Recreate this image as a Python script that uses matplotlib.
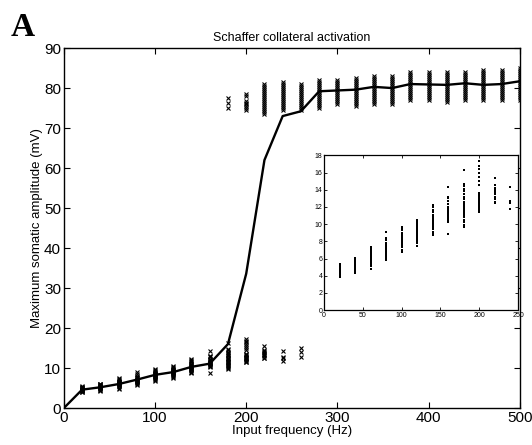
import matplotlib
matplotlib.use('Agg')
import matplotlib.pyplot as plt

plt.rcParams['font.family'] = ['Liberation Sans', 'DejaVu Sans']

# mean response line
freq = [0, 20, 40, 60, 80, 100, 120, 140, 160, 180, 200, 220, 240, 260, 280,
        300, 320, 340, 360, 380, 400, 420, 440, 460, 480, 500]
mean_amp = [0, 4.6, 5.2, 6.0, 7.1, 8.3, 9.0, 10.3, 11.1, 16.0, 33.6, 62.0, 73.0,
            74.2, 79.2, 79.4, 79.6, 80.3, 80.0, 81.0, 80.9, 80.8, 81.2, 80.8,
            81.0, 81.7]

# subthreshold trials (also shown in the inset)
low_freq = [20, 40, 60, 80, 100, 120, 140, 160, 180, 200, 220, 240, 260]
low_vals = [
    [3.9, 4.1, 4.2, 4.3, 4.4, 4.5, 4.5, 4.6, 4.7, 4.8, 4.9, 5.0, 5.1, 5.2, 5.3, 5.4],
    [4.3, 4.5, 4.6, 4.8, 4.9, 5.0, 5.1, 5.2, 5.3, 5.4, 5.5, 5.6, 5.7, 5.8, 5.9, 6.0, 6.1],
    [4.8, 5.1, 5.4, 5.6, 5.8, 5.9, 6.0, 6.1, 6.2, 6.3, 6.4, 6.5, 6.6, 6.8, 7.0, 7.2, 7.4],
    [5.8, 6.0, 6.2, 6.4, 6.6, 6.7, 6.8, 6.9, 7.0, 7.1, 7.2, 7.4, 7.6, 7.8, 8.1, 8.4, 9.1],
    [6.8, 7.0, 7.3, 7.5, 7.7, 7.9, 8.0, 8.1, 8.2, 8.3, 8.4, 8.5, 8.6, 8.8, 9.0, 9.3, 9.5, 9.7],
    [7.5, 7.8, 8.0, 8.3, 8.5, 8.7, 8.8, 8.9, 9.0, 9.1, 9.2, 9.3, 9.4, 9.6, 9.8, 10.0, 10.3, 10.5],
    [8.7, 8.9, 9.1, 9.4, 9.6, 9.8, 10.0, 10.1, 10.2, 10.3, 10.4, 10.5, 10.7, 10.9, 11.1, 11.4, 11.7, 12.0, 12.2],
    [8.8, 10.2, 10.4, 10.6, 10.8, 11.0, 11.1, 11.2, 11.3, 11.4, 11.6, 11.8, 12.0, 12.3, 12.7, 13.0, 13.1, 14.3],
    [9.7, 9.9, 10.2, 10.5, 10.8, 11.0, 11.2, 11.4, 11.6, 11.8, 12.0, 12.2, 12.4, 12.6, 12.9, 13.2, 13.5, 13.8, 14.1, 14.4, 14.7, 16.3],
    [11.4, 11.6, 11.8, 12.0, 12.2, 12.4, 12.6, 12.8, 13.0, 13.2, 13.4, 13.6, 14.6, 15.0, 15.5, 16.0, 16.4, 16.7, 17.3],
    [12.4, 12.6, 12.9, 13.2, 13.5, 13.7, 14.0, 14.2, 14.6, 15.4],
    [11.8, 12.4, 12.7, 14.3],
    [12.8, 13.9, 15.0],
]

# spiking trials
high_freq = [180, 200, 220, 240, 260, 280, 300, 320, 340, 360, 380, 400, 420,
             440, 460, 480, 500]
high_vals = [
    [75.0, 76.2, 77.4],
    [74.6, 75.1, 75.5, 75.9, 76.3, 76.8, 77.9, 78.4],
    [73.5, 74.0, 74.5, 75.0, 75.5, 76.0, 76.5, 77.0, 77.5, 78.0, 78.5, 79.0, 79.5, 80.0, 80.5, 81.0],
    [74.5, 75.0, 75.5, 76.0, 76.5, 77.0, 77.5, 78.0, 78.5, 79.0, 79.5, 80.0, 80.5, 81.0, 81.5],
    [74.5, 75.0, 75.5, 76.0, 76.5, 77.0, 77.5, 78.0, 78.5, 79.0, 79.5, 80.0, 80.5, 81.0],
    [75.0, 75.5, 76.0, 76.5, 77.0, 77.5, 78.0, 78.5, 79.0, 79.5, 80.0, 80.5, 81.0, 81.5, 82.0],
    [76.0, 76.5, 77.0, 77.5, 78.0, 78.5, 79.0, 79.5, 80.0, 80.5, 81.0, 81.5, 82.0],
    [75.5, 76.0, 76.5, 77.0, 77.5, 78.0, 78.5, 79.0, 79.5, 80.0, 80.5, 81.0, 81.5, 82.0, 82.5],
    [76.0, 76.5, 77.0, 77.5, 78.0, 78.5, 79.0, 79.5, 80.0, 80.5, 81.0, 81.5, 82.0, 82.5, 83.0],
    [76.0, 76.5, 77.0, 77.5, 78.0, 78.5, 79.0, 79.5, 80.0, 80.5, 81.0, 81.5, 82.0, 82.5, 83.0],
    [77.0, 77.5, 78.0, 78.5, 79.0, 79.5, 80.0, 80.5, 81.0, 81.5, 82.0, 82.5, 83.0, 83.5, 84.0],
    [77.0, 77.5, 78.0, 78.5, 79.0, 79.5, 80.0, 80.5, 81.0, 81.5, 82.0, 82.5, 83.0, 83.5, 84.0],
    [76.5, 77.0, 77.5, 78.0, 78.5, 79.0, 79.5, 80.0, 80.5, 81.0, 81.5, 82.0, 82.5, 83.0, 83.5, 84.0],
    [77.0, 77.5, 78.0, 78.5, 79.0, 79.5, 80.0, 80.5, 81.0, 81.5, 82.0, 82.5, 83.0, 83.5, 84.0],
    [77.0, 77.5, 78.0, 78.5, 79.0, 79.5, 80.0, 80.5, 81.0, 81.5, 82.0, 82.5, 83.0, 83.5, 84.0, 84.5],
    [77.0, 77.5, 78.0, 78.5, 79.0, 79.5, 80.0, 80.5, 81.0, 81.5, 82.0, 82.5, 83.0, 83.5, 84.0, 84.5],
    [77.0, 77.5, 78.0, 78.5, 79.0, 79.5, 80.0, 80.5, 81.0, 81.5, 82.0, 82.5, 83.0, 83.5, 84.0, 84.5, 85.0],
]


def flatten(freqs, vals, xmax=None):
    xs, ys = [], []
    for f, v in zip(freqs, vals):
        if xmax is not None and f > xmax:
            continue
        xs += [f] * len(v)
        ys += v
    return xs, ys


fig = plt.figure(figsize=(5.32, 4.45), dpi=100)
ax = fig.add_axes([0.120, 0.083, 0.857, 0.809])

lx, ly = flatten(low_freq, low_vals)
hx, hy = flatten(high_freq, high_vals)
ax.plot(lx, ly, 'x', color='black', markersize=3.2, markeredgewidth=0.8)
ax.plot(hx, hy, 'x', color='black', markersize=3.2, markeredgewidth=0.8)
ax.plot(freq, mean_amp, '-', color='black', linewidth=1.7)

ax.set_xlim(0, 500)
ax.set_ylim(0, 90)
ax.set_xticks(range(0, 501, 100))
ax.set_yticks(range(0, 91, 10))
ax.tick_params(direction='in', top=True, right=True, labelsize=11, length=4, width=0.8, pad=2)
for s in ax.spines.values():
    s.set_linewidth(1.0)
ax.set_xlabel('Input frequency (Hz)', fontsize=9.5, labelpad=0)
ax.set_ylabel('Maximum somatic amplitude (mV)', fontsize=9.5, labelpad=1)
ax.set_title('Schaffer collateral activation', fontsize=9, pad=5)

fig.text(0.02, 0.919, 'A', fontsize=24, fontweight='bold', family='Liberation Serif')

# inset
ins = fig.add_axes([0.609, 0.303, 0.365, 0.348])
ix, iy = flatten(low_freq, low_vals, xmax=250)
ins.plot(ix, iy, 's', color='black', markersize=1.7, markeredgewidth=0)
ins.set_xlim(0, 250)
ins.set_ylim(0, 18)
ins.set_xticks(range(0, 251, 50))
ins.set_yticks(range(0, 19, 2))
ins.tick_params(direction='in', top=True, right=True, labelsize=5, length=2, width=0.6, pad=1)
for s in ins.spines.values():
    s.set_linewidth(0.9)

fig.savefig('out.png', dpi=100)
